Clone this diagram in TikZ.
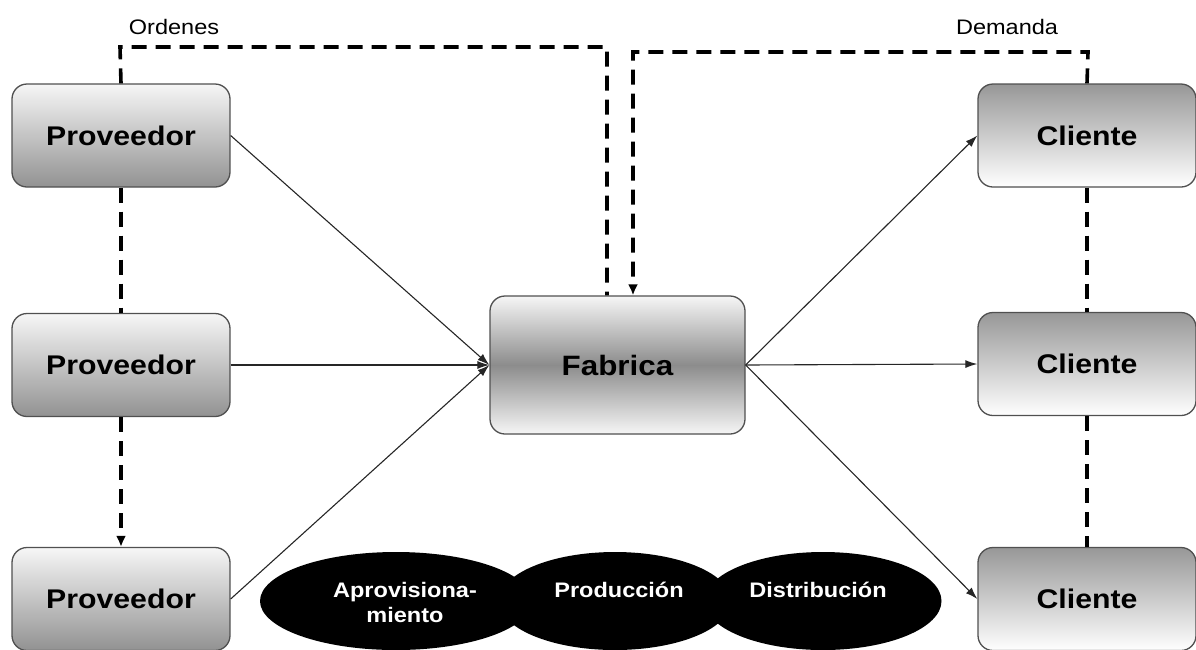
\documentclass[tikz,border=0pt]{standalone}
\usepackage{fontspec}
\setmainfont{Liberation Sans}[FakeStretch=1.12]
\usetikzlibrary{arrows.meta,shapes.geometric}

\definecolor{boxline}{HTML}{505050}
\definecolor{lightgray}{HTML}{F6F6F6}
\definecolor{midgray}{HTML}{929292}
\definecolor{darkband}{HTML}{8C8C8C}

\tikzset{
  box/.style={draw=boxline, line width=1.3pt, rounded corners=15pt,
    minimum width=218pt, minimum height=103pt,
    font=\fontsize{27}{30}\selectfont\bfseries, inner sep=0pt},
  provbox/.style={box, top color=lightgray, bottom color=midgray},
  clientbox/.style={box, top color=midgray!95, bottom color=white},
  fabbox/.style={box, minimum width=255pt, minimum height=138pt,
    font=\fontsize{28}{30}\selectfont\bfseries,
    top color=lightgray, bottom color=lightgray, middle color=darkband},
  stage/.style={ellipse, fill=black, minimum height=98pt, inner sep=0pt},
  stagetext/.style={text=white, align=center,
    font=\fontsize{21}{25}\selectfont\bfseries},
  flowlabel/.style={font=\fontsize{21}{22}\selectfont},
  infoline/.style={line width=3.6pt, dash pattern=on 15pt off 9pt},
  infoarrow/.style={infoline, -{Latex[length=11pt,width=10pt]}},
  flow/.style={line width=1.1pt, draw=black!85,
    -{Latex[length=12pt,width=8pt]}}
}

\begin{document}
\begin{tikzpicture}[x=1pt,y=-1pt]
\useasboundingbox (0,0) rectangle (1196,649);

% suppliers
\node[provbox] (p1) at (121,135.5) {Proveedor};
\node[provbox] (p2) at (121,365) {Proveedor};
\node[provbox] (p3) at (121,599) {Proveedor};

% factory
\node[fabbox] (fab) at (617.5,365) {Fabrica};

% customers
\node[clientbox] (c1) at (1087,135.5) {Cliente};
\node[clientbox] (c2) at (1087,364) {Cliente};
\node[clientbox] (c3) at (1087,599) {Cliente};

% supply chain stages
\node[stage, minimum width=237pt] (e3) at (823,601) {};
\node[stage, minimum width=232pt] (e2) at (615,601) {};
\node[stage, minimum width=272pt] (e1) at (396,601) {};
\node[stagetext] (t1) at (405,602) {Aprovisiona-\\miento};
\node[stagetext] (t2) at (619,590) {Producción};
\node[stagetext] (t3) at (818,590) {Distribución};

% information flows
\coordinate (o1) at (120,47);
\coordinate (o2) at (607,47);
\coordinate (d1) at (1088,52);
\coordinate (d2) at (633,52);
\draw[infoline] (p1.north) -- (o1) -- (o2) -- (o2 |- fab.north);
\draw[infoarrow] (c1.north) -- (d1) -- (d2) -- (d2 |- fab.north);
\node[flowlabel] (ord) at (174,27) {Ordenes};
\node[flowlabel] (dem) at (1007,27) {Demanda};

\draw[infoline] (p1.south) -- (p2.north);
\draw[infoarrow] (p2.south) -- (p3.north);
\draw[infoline] (c1.south) -- (c2.north);
\draw[infoline] (c2.south) -- (c3.north);

% material flows
\draw[flow] (p1.east) -- (fab.west);
\draw[flow] (p2.east) -- (fab.west);
\draw[flow] (p3.east) -- (fab.west);
\draw[flow] (fab.east) -- (c1.west);
\draw[flow] (fab.east) -- (c2.west);
\draw[flow] (fab.east) -- (c3.west);
\end{tikzpicture}
\end{document}
